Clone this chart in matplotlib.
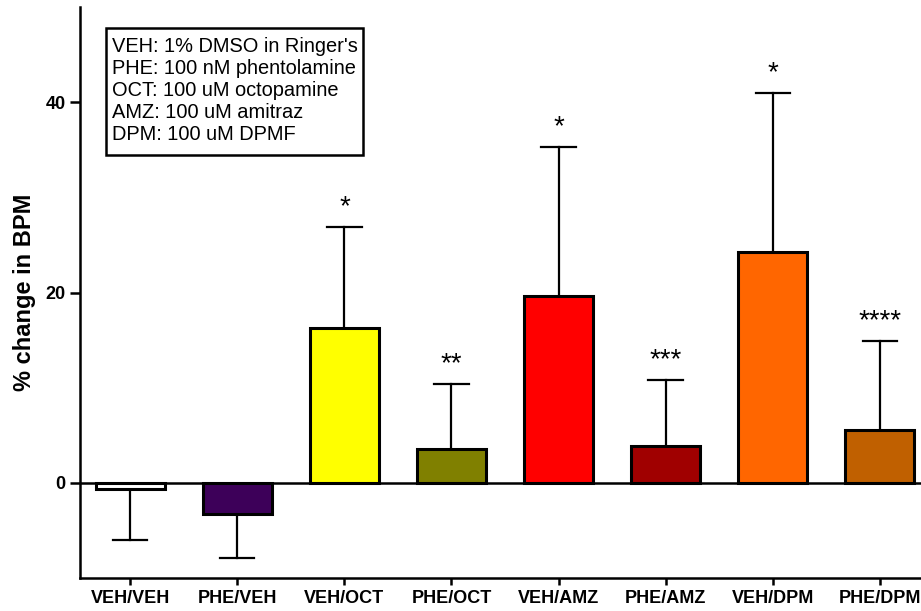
import matplotlib.pyplot as plt
from matplotlib.patches import Rectangle

plt.rcParams['font.family'] = ['Liberation Sans', 'DejaVu Sans']

# data
groups = ["VEH/VEH", "PHE/VEH", "VEH/OCT", "PHE/OCT",
          "VEH/AMZ", "PHE/AMZ", "VEH/DPM", "PHE/DPM"]
means = [-0.7, -3.3, 16.3, 3.6, 19.6, 3.9, 24.3, 5.6]
errors = [5.3, 4.6, 10.6, 6.8, 15.7, 6.9, 16.7, 9.3]
stars = ["", "", "*", "**", "*", "***", "*", "****"]
colors = ["#ffffff", "#3d0059", "#ffff00", "#808000",
          "#ff0000", "#a00000", "#ff6600", "#c06000"]
legend_lines = [
    "VEH: 1% DMSO in Ringer's",
    "PHE: 100 nM phentolamine",
    "OCT: 100 uM octopamine",
    "AMZ: 100 uM amitraz",
    "DPM: 100 uM DPMF",
]

fig = plt.figure(figsize=(9.21, 6.11), dpi=100)
ax = fig.add_axes([80 / 921, 33 / 611, 850 / 921, 571 / 611])

x = list(range(len(groups)))
bars = ax.bar(x, means, width=0.64, color=colors, edgecolor='black',
              linewidth=2.2, zorder=3)

# one-sided error bars (away from zero)
for xi, m, e in zip(x, means, errors):
    end = m + e if m >= 0 else m - e
    ax.plot([xi, xi], [m, end], color='black', lw=1.6, zorder=2)
    ax.plot([xi - 0.16, xi + 0.16], [end, end], color='black', lw=1.6, zorder=2)

for xi, m, e, s in zip(x, means, errors, stars):
    if s:
        ax.text(xi, m + e + 0.7, s, ha='center', va='bottom', fontsize=20)

ax.axhline(0, color='black', lw=1.8, zorder=4)

ax.set_xlim(-0.47, 7.47)
ax.set_ylim(-10, 50)
ax.set_yticks([0, 20, 40])
ax.set_xticks(x)
ax.set_xticklabels(groups, fontsize=13, fontweight='bold')
ax.tick_params(axis='y', labelsize=13, width=1.8, length=7)
ax.tick_params(axis='x', width=1.8, length=5)
for lbl in ax.get_yticklabels():
    lbl.set_fontweight('bold')
ax.set_ylabel('% change in BPM', fontsize=17, fontweight='bold', labelpad=7)

for side in ['top', 'right']:
    ax.spines[side].set_visible(False)
for side in ['left', 'bottom']:
    ax.spines[side].set_linewidth(1.8)

# legend-like text box
ax.add_patch(Rectangle((0.0306, 0.741), 0.302, 0.222, transform=ax.transAxes,
                       facecolor='white', edgecolor='black', lw=1.8, zorder=5))
ax.text(0.0376, 0.8546, "\n".join(legend_lines), transform=ax.transAxes,
        ha='left', va='center', fontsize=14.4, linespacing=1.2, zorder=6)

fig.savefig('out.png', dpi=100)
